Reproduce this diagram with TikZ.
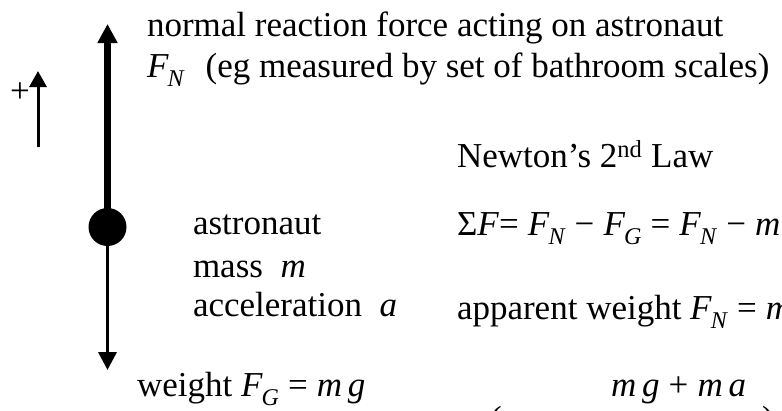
\documentclass[tikz,border=0pt]{standalone}
\usepackage{fontspec}
\setmainfont{Liberation Serif}
\usetikzlibrary{arrows.meta}
\newcommand\sbi[1]{\raisebox{-0.26em}{\fontsize{24}{24}\selectfont\textit{#1}}}
\newcommand\FF[1]{\textit{F}\kern-0.03em\sbi{#1}}
\newcommand\op[1]{\hspace{0.26em}#1\hspace{0.26em}}
\begin{document}
\begin{tikzpicture}[x=1pt,y=1pt,
  txt/.style={anchor=base west, inner sep=0, outer sep=0, font=\fontsize{35}{40}\selectfont},
  thickarrow/.style={line width=6.5pt, -{Triangle[length=19pt,width=19pt]}},
  thinarrow/.style={line width=3.5pt, -{Triangle[length=18pt,width=18pt]}},
  signarrow/.style={line width=3pt, -{Triangle[length=16pt,width=17pt]}}]
\useasboundingbox (0,0) rectangle (782,-410);
% body
\node[circle, fill=black, inner sep=0, minimum size=38pt] (body) at (107.5,-227) {};
\coordinate (ntip) at (107.5,-24);
\coordinate (wtip) at (107.5,-370);
\draw[thickarrow] (body.center) -- (ntip);
\draw[thinarrow] (body.south) -- (wtip);
% sign convention
\coordinate (sbot) at (38,-147);
\coordinate (stip) at (38,-71);
\draw[signarrow] (sbot) -- (stip);
\node[txt, anchor=center] (plus) at (20,-93) {+};
% labels
\node[txt] (n1) at (147,-36) {normal reaction force acting on astronaut};
\node[txt] (n2) at (147,-77) {\FF{N}\hspace{0.6em}(eg measured by set of bathroom scales)};
\node[txt] (a1) at (193,-234) {astronaut};
\node[txt] (a2) at (193,-277) {mass\hspace{0.5em}\textit{m}};
\node[txt] (a3) at (193,-316) {acceleration\hspace{0.5em}\textit{a}};
\node[txt] (w) at (137,-396) {weight \FF{G}\op{=}\textit{m}\,\textit{g}};
\node[txt] (nl) at (457,-167) {Newton’s 2\textsuperscript{nd} Law};
\node[txt] (sf) at (457,-235) {Σ\textit{F}=\hspace{0.26em}\FF{N}\op{−}\FF{G}\op{=}\FF{N}\op{−}\textit{m}\,\textit{g}};
\node[txt] (aw) at (457,-319) {apparent weight \FF{N}\op{=}\textit{m}\,\textit{g}\op{+}\textit{m}\,\textit{a}};
\node[txt] (num) at (611,-396) {\textit{m}\,\textit{g}\op{+}\textit{m}\,\textit{a}};
\node[txt] (lp) at (490,-430) {(};
\node[txt] (rp) at (762,-430) {)};
\end{tikzpicture}
\end{document}
